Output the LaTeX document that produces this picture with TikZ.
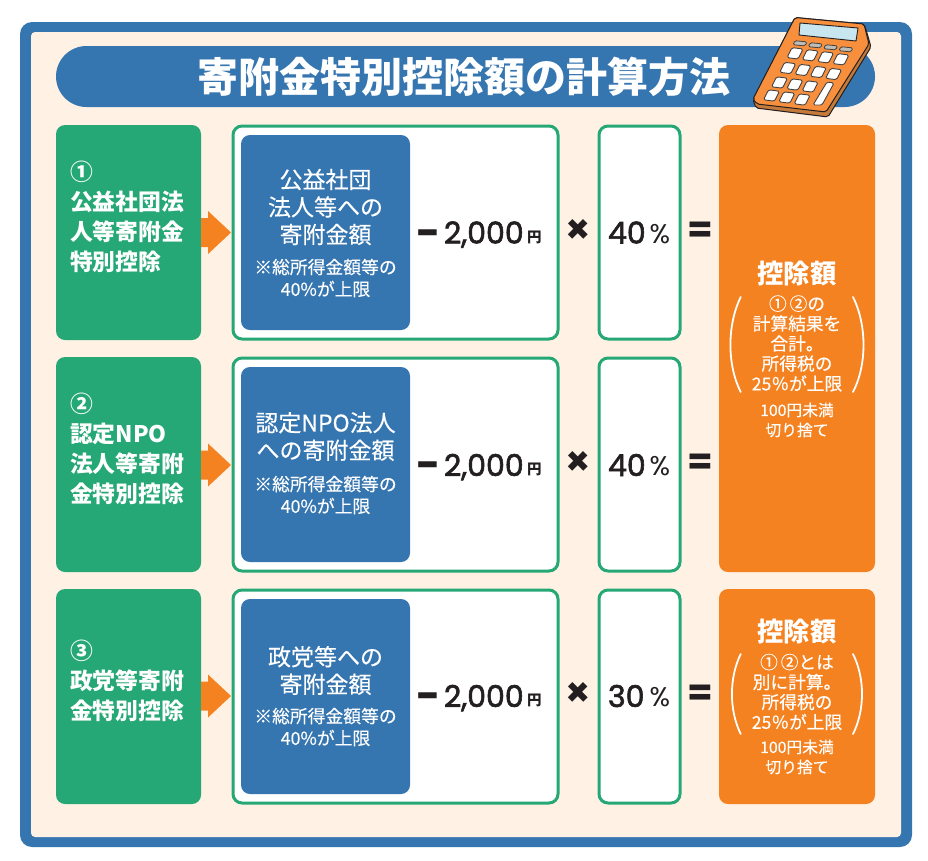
\documentclass[tikz,border=0pt]{standalone}
\usepackage{fontspec}
\setmainfont{Noto Sans CJK JP}
\newfontfamily\medf[FakeBold=0.3]{Noto Sans CJK JP}
\newfontfamily\latinf[FakeBold=2]{Poppins}
\newfontfamily\latinb{Poppins}
\usetikzlibrary{calc}
\definecolor{fblue}{HTML}{3575B0}
\definecolor{fcream}{HTML}{FFF2E4}
\definecolor{fgreen}{HTML}{25A876}
\definecolor{forange}{HTML}{F58220}
\definecolor{fink}{HTML}{231F20}
\definecolor{calcface}{HTML}{F78F3D}
\definecolor{calcside}{HTML}{C47A3A}
\definecolor{calcscreen}{HTML}{C8E6F0}
\definecolor{calcgray}{HTML}{BDBDB5}
\newcommand\fs[2]{\fontsize{#1}{#2}\selectfont}
\tikzset{
  every node/.style={inner sep=0pt,outer sep=0pt},
  greenbox/.style={fill=fgreen,rounded corners=9pt},
  whitebox/.style={fill=white,draw=fgreen,line width=3pt,rounded corners=9pt},
  bluebox/.style={fill=fblue,rounded corners=9pt},
  orangebox/.style={fill=forange,rounded corners=9pt},
  flowarrow/.style={fill=forange},
  wtext/.style={text=white,align=center},
  greentext/.style={text=white,align=left,anchor=north west,font=\bfseries\fs{22.8}{30}},
  bluetext/.style={wtext,font=\medf\fs{23}{27.5}},
  notetext/.style={wtext,font=\medf\fs{17.8}{22}},
  numtext/.style={text=fink,font=\latinf\fs{30}{30}},
  unittext/.style={text=fink,font=\bfseries\fs{14.5}{16}},
  sumhead/.style={wtext,font=\bfseries\fs{26.3}{28}},
  sumbody/.style={wtext,font=\medf\fs{17.7}{20}},
  sumfoot/.style={wtext,font=\medf\fs{15.8}{20}},
  paren/.style={draw=white,line width=1.8pt,line cap=round},
  calc/.style={draw=fink,line width=1pt,line join=round,rounded corners=2pt},
  calckey/.style={fill=white,draw=fink!85,line width=.9pt,rounded corners=1.6pt},
  calctop/.style={fill=calcgray,draw=fink!85,line width=.8pt,rounded corners=1.4pt},
}
\newcommand\calcKey[2]{\draw[calckey,shift={(#1,#2)}] (-3,-5.7)--(8,-4.3)--(3,5.7)--(-8,4.3)--cycle;}
\newcommand\calcTop[2]{\draw[calctop,shift={(#1,#2)}] (-5,-2.6)--(7,-1.4)--(5,2.6)--(-7,1.4)--cycle;}
% row: #1 top, #2 bottom, #3 mid, #4 percent, #5 name
\newcommand\calcRow[5]{%
  \fill[greenbox] (56,#1-1) rectangle (201,#2+1);
  \fill[flowarrow] (201,#3-14.5)--(208,#3-14.5)--(208,#3-21.5)--(231,#3)--(208,#3+21.5)--(208,#3+14.5)--(201,#3+14.5)--cycle;
  \draw[whitebox] (233,#1) rectangle (558,#2);
  \draw[whitebox] (599,#1) rectangle (680,#2);
  \fill[bluebox] (241,#1+9) rectangle (410,#2-9);
  \node[text=fink,font=\latinb\bfseries\fs{42}{42}] (minus#5) at (427.5,#3+6) {−};
  \node[numtext,anchor=base west] (amt#5) at (444,#3+11) {2,000};
  \node[unittext,anchor=base west] (yen#5) at (527,#3+9.5) {円};
  \node[text=fink,font=\latinb\bfseries\fs{40}{40}] (times#5) at (578.5,#3-1.5) {×};
  \node[numtext,anchor=base west] (pct#5) at (608,#3+11) {#4};
  \node[text=fink,font=\latinb\fs{27}{27},anchor=base west] (pc#5) at (649.5,#3+10.5) {\%};
  \node[text=fink,font=\latinb\bfseries\fs{37}{37}] (eq#5) at (700,#3-0.5) {=};
}
\begin{document}
\begin{tikzpicture}[x=1pt,y=-1pt]
\useasboundingbox (0,0) rectangle (928,860);
% frame
\fill[fblue,rounded corners=12pt] (20,22) rectangle (912,847);
\fill[fcream,rounded corners=4pt] (31,32) rectangle (901,837);
% title
\fill[fblue,rounded corners=30.5pt] (56,46) rectangle (875,107);
\node[text=white,font=\bfseries\fs{41}{43}] (title) at (463.5,76.5) {寄附金特別控除額の計算方法};
% calculator
\draw[calc,fill=calcside] (795,17.5)--(864,24)--(867,33)--(871,47)--(828,117)--(756,108)--(753,100)--cycle;
\draw[calc,fill=calcface] (795,17.5)--(864,24)--(869,44)--(826,112)--(757,104)--(753,99)--cycle;
\draw[fill=calcscreen,draw=fink,line width=.9pt] (800,23)--(858,28)--(856,41)--(799,35)--cycle;
\foreach \i in {0,1,2,3} {\calcTop{800+15.3*\i}{43.3+2*\i}}
\foreach \i in {0,1,2,3} {\calcKey{795+15.3*\i}{53.3+2*\i}\calcKey{787.7+15.3*\i}{68+2*\i}}
\foreach \i in {0,1,2} {\calcKey{779.5+15.3*\i}{82.5+2*\i}\calcKey{771.5+15.3*\i}{95.5+2*\i}}
\draw[calckey] (827,82)--(834,83)--(822,105)--(813,105)--cycle;
% rows
\calcRow{126}{339}{232.5}{40}{a}
\calcRow{358}{571}{465}{40}{b}
\calcRow{590}{803}{696}{30}{c}
% green texts
\node[greentext] (g1) at (70,160.5) {①\\公益社団法\\人等寄附金\\特別控除};
\node[greentext] (g2) at (70,392.5) {②\\認定NPO\\法人等寄附\\金特別控除};
\node[greentext] (g3) at (70,639.5) {③\\政党等寄附\\金特別控除};
% blue texts
\node[bluetext] (b1) at (325.5,207) {公益社団\\法人等への\\寄附金額};
\node[notetext] (n1) at (325.5,278) {※総所得金額等の\\40\%が上限};
\node[bluetext] (b2) at (325.5,436.5) {認定NPO法人\\への寄附金額};
\node[notetext] (n2) at (325.5,495) {※総所得金額等の\\40\%が上限};
\node[bluetext] (b3) at (325.5,670.5) {政党等への\\寄附金額};
\node[notetext] (n3) at (325.5,727) {※総所得金額等の\\40\%が上限};
% orange boxes
\fill[orangebox] (719,125) rectangle (875,572);
\fill[orangebox] (719,589) rectangle (875,804);
\node[sumhead] (s1) at (797,273) {控除額};
\draw[paren] (740.7,297) .. controls (727,325) and (727,365) .. (740.7,392);
\draw[paren] (853,297) .. controls (867,325) and (867,365) .. (853,392);
\node[sumbody] (t1) at (797,343.5) {①\,②の\\計算結果を\\合計。\\所得税の\\25％が上限};
\node[sumfoot] (f1) at (797,420) {100円未満\\切り捨て};
\node[sumhead] (s2) at (797,631) {控除額};
\draw[paren] (740.7,654) .. controls (729,678) and (729,710) .. (740.7,734);
\draw[paren] (853,654) .. controls (865,678) and (865,710) .. (853,734);
\node[sumbody] (t2) at (797,692) {①\,②とは\\別に計算。\\所得税の\\25％が上限};
\node[sumfoot] (f2) at (797,757) {100円未満\\切り捨て};
\end{tikzpicture}
\end{document}
